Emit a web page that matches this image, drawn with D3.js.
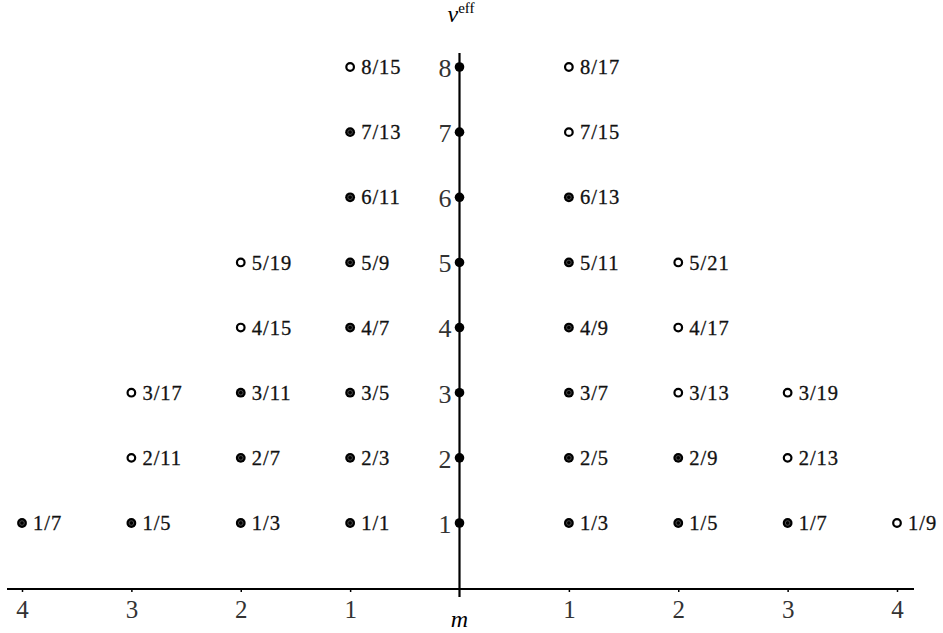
<!DOCTYPE html>
<html>
<head>
<meta charset="utf-8">
<script src="https://cdn.jsdelivr.net/npm/d3@7"></script>
<style>
  body { margin: 0; background: #fff; }
  svg { display: block; }
</style>
</head>
<body>
<div class="chart"></div>
<script>
// columns (m) and levels (nu)
const mTicks = [-4, -3, -2, -1, 0, 1, 2, 3, 4];
const nuTicks = [1, 2, 3, 4, 5, 6, 7, 8];

// off-axis points: m, nu, label, open marker?
const pointM     = [-4, -3, -3, -3, -2, -2, -2, -2, -2, -1, -1, -1, -1, -1, -1, -1, -1,
                     1, 1, 1, 1, 1, 1, 1, 1, 2, 2, 2, 2, 2, 3, 3, 3, 4];
const pointNu    = [ 1,  1,  2,  3,  1,  2,  3,  4,  5,  1,  2,  3,  4,  5,  6,  7,  8,
                     1, 2, 3, 4, 5, 6, 7, 8, 1, 2, 3, 4, 5, 1, 2, 3, 1];
const pointLabel = ["1/7", "1/5", "2/11", "3/17", "1/3", "2/7", "3/11", "4/15", "5/19",
                    "1/1", "2/3", "3/5", "4/7", "5/9", "6/11", "7/13", "8/15",
                    "1/3", "2/5", "3/7", "4/9", "5/11", "6/13", "7/15", "8/17",
                    "1/5", "2/9", "3/13", "4/17", "5/21", "1/7", "2/13", "3/19", "1/9"];
const pointOpen  = [0, 0, 1, 1, 0, 0, 0, 1, 1, 0, 0, 0, 0, 0, 0, 0, 1,
                    0, 0, 0, 0, 0, 0, 1, 1, 0, 0, 1, 1, 1, 0, 1, 1, 1];

const serif = "'Liberation Serif', 'DejaVu Serif', serif";

let width = 943, height = 633;
let svg = d3.select(".chart").append("svg")
    .attr("width", width)
    .attr("height", height)
    .attr("font-family", serif);

let x = d3.scaleLinear().domain([-4, 4]).range([22, 897]);
let y = d3.scaleLinear().domain([1, 8]).range([523, 67]);
const axisY = 589;

// horizontal axis
svg.append("line")
    .attr("x1", x(-4) - 15).attr("x2", x(4) + 17)
    .attr("y1", axisY).attr("y2", axisY)
    .attr("stroke", "#000").attr("stroke-width", 2.2);

let xAxis = svg.append("g")
    .attr("transform", "translate(0," + axisY + ")")
    .call(d3.axisBottom(x)
        .tickValues(mTicks.filter(d => d !== 0))
        .tickSize(3)
        .tickPadding(8)
        .tickFormat(d => Math.abs(d)));
xAxis.attr("font-family", serif);
xAxis.select(".domain").remove();
xAxis.selectAll("line").attr("stroke", "#000").attr("stroke-width", 1.5);
xAxis.selectAll("text")
    .attr("fill", "#333")
    .style("font-size", "25px");

svg.append("text")
    .attr("x", x(0)).attr("y", 627)
    .attr("text-anchor", "middle")
    .style("font-style", "italic")
    .style("font-size", "24px")
    .text("m");

// vertical axis
svg.append("line")
    .attr("x1", x(0)).attr("x2", x(0))
    .attr("y1", y(8) - 14).attr("y2", axisY + 8)
    .attr("stroke", "#000").attr("stroke-width", 2.2);

let yAxis = svg.append("g")
    .attr("transform", "translate(" + x(0) + ",0)")
    .call(d3.axisLeft(y).tickValues(nuTicks).tickSize(0).tickPadding(8).tickFormat(d3.format("d")));
yAxis.attr("font-family", serif);
yAxis.select(".domain").remove();
yAxis.selectAll("text")
    .attr("fill", "#333")
    .attr("dy", "0.36em")
    .style("font-size", "26px");

let nuLabel = svg.append("text")
    .attr("x", x(0) - 12).attr("y", 22);
nuLabel.append("tspan").style("font-style", "italic").style("font-size", "24px").text("\u03BD");
nuLabel.append("tspan").attr("dy", -9).style("font-size", "15px").text("eff");

// on-axis points
svg.append("g").selectAll("circle")
    .data(nuTicks)
    .enter()
    .append("circle")
    .attr("cx", x(0))
    .attr("cy", d => y(d))
    .attr("r", 4.8)
    .attr("fill", "#000");

// off-axis points
let points = pointM.map((m, i) => ({m: m, nu: pointNu[i], label: pointLabel[i], open: pointOpen[i] === 1}));

let g = svg.append("g");
g.selectAll("circle.open")
    .data(points.filter(p => p.open))
    .enter()
    .append("circle")
    .attr("cx", d => x(d.m))
    .attr("cy", d => y(d.nu))
    .attr("r", 3.8)
    .attr("fill", "#fff")
    .attr("stroke", "#000")
    .attr("stroke-width", 2.2);

let filled = g.selectAll("g.filled")
    .data(points.filter(p => !p.open))
    .enter()
    .append("g");
filled.append("circle")
    .attr("cx", d => x(d.m))
    .attr("cy", d => y(d.nu))
    .attr("r", 4.9)
    .attr("fill", "#000");
filled.append("circle")
    .attr("cx", d => x(d.m))
    .attr("cy", d => y(d.nu))
    .attr("r", 2.3)
    .attr("fill", "none")
    .attr("stroke", "#555")
    .attr("stroke-width", 0.9);

g.selectAll("text")
    .data(points)
    .enter()
    .append("text")
    .attr("x", d => x(d.m) + 11)
    .attr("y", d => y(d.nu))
    .attr("dy", "0.35em")
    .attr("fill", "#111")
    .attr("stroke", "#111")
    .attr("stroke-width", 0.3)
    .style("font-family", serif)
    .style("letter-spacing", "1px")
    .style("font-size", "20.5px")
    .text(d => d.label);
</script>
</body>
</html>
